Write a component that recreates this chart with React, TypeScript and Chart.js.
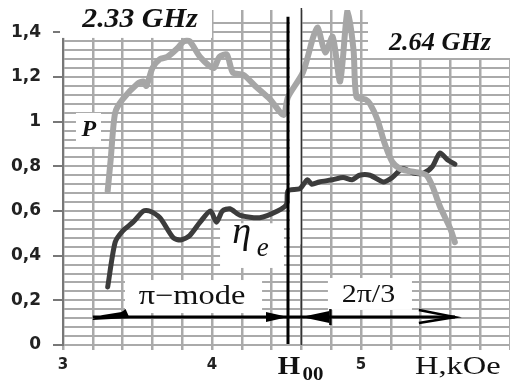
import React, { useEffect, useRef } from "react";
import { Chart, registerables } from "chart.js";
Chart.register(...registerables);

// Magnetic field H, kOe and output power P (grey curve)
const P_H = [3.30, 3.32, 3.35, 3.40, 3.50, 3.54, 3.56, 3.60, 3.65, 3.70, 3.77, 3.81, 3.85, 3.92, 4.01, 4.05, 4.10, 4.14, 4.21, 4.29, 4.39, 4.48, 4.51, 4.61, 4.68, 4.71, 4.76, 4.81, 4.86, 4.91, 4.95, 4.97, 5.03, 5.06, 5.11, 5.16, 5.21, 5.26, 5.31, 5.40, 5.44, 5.48, 5.53, 5.60, 5.63];
const P_VAL = [0.69, 0.83, 1.04, 1.10, 1.17, 1.18, 1.16, 1.24, 1.28, 1.29, 1.33, 1.36, 1.36, 1.29, 1.24, 1.29, 1.30, 1.22, 1.21, 1.16, 1.10, 1.03, 1.11, 1.22, 1.38, 1.42, 1.31, 1.38, 1.18, 1.50, 1.32, 1.11, 1.10, 1.08, 1.01, 0.90, 0.82, 0.79, 0.78, 0.77, 0.76, 0.71, 0.62, 0.52, 0.46];

// Electronic efficiency eta_e (dark curve)
const ETA_H = [3.30, 3.35, 3.40, 3.47, 3.54, 3.58, 3.65, 3.74, 3.79, 3.85, 3.92, 3.99, 4.03, 4.07, 4.12, 4.19, 4.32, 4.44, 4.50, 4.51, 4.59, 4.64, 4.67, 4.72, 4.81, 4.88, 4.94, 4.99, 5.06, 5.15, 5.21, 5.28, 5.35, 5.42, 5.48, 5.53, 5.58, 5.63];
const ETA_VAL = [0.26, 0.46, 0.51, 0.55, 0.60, 0.60, 0.57, 0.48, 0.47, 0.49, 0.55, 0.60, 0.55, 0.60, 0.61, 0.58, 0.57, 0.60, 0.63, 0.69, 0.70, 0.74, 0.72, 0.73, 0.74, 0.75, 0.74, 0.76, 0.76, 0.73, 0.75, 0.79, 0.77, 0.77, 0.80, 0.86, 0.83, 0.81];

// Axis ranges / ticks
const X_MIN = 3, X_MAX = 6, X_STEP = 0.2;
const Y_MIN = 0, Y_MAX = 1.5, Y_STEP = 0.04, Y_LABEL_STEP = 0.2;

// Mode boundaries
const H00 = 4.51;
const H00_B = 4.60;
const ARROW_Y = 0.125;
const ARROW_FROM = 3.2;
const ARROW_TO = 5.63;

const SERIF = '"Liberation Serif", "Times New Roman", serif';

function isMultiple(v: number, step: number) {
  const r = v / step;
  return Math.abs(r - Math.round(r)) < 1e-6;
}

function drawText(ctx: CanvasRenderingContext2D, text: string, px: number, py: number, font: string, sx: number) {
  ctx.save();
  ctx.translate(px, py);
  ctx.scale(sx, 1);
  ctx.font = font;
  ctx.fillStyle = "#111";
  ctx.textAlign = "center";
  ctx.textBaseline = "middle";
  ctx.fillText(text, 0, 0);
  ctx.restore();
}

const overlay = {
  id: "overlay",
  beforeDatasetsDraw(chart: any) {
    const { ctx, scales } = chart;
    const x = scales.x, y = scales.y;
    const boxes: [number, number, number, number][] = [
      [2.98, 4.0, 1.6, 1.375], // 2.33 GHz
      [5.047, 6.05, 1.6, 1.285], // 2.64 GHz
      [3.087, 3.255, 1.039, 0.887], // P
      [4.054, 4.483, 0.545, 0.345], // eta
      [3.416, 4.336, 0.291, 0.143], // pi-mode
      [4.778, 5.342, 0.3, 0.157], // 2pi/3
      [4.523, 4.597, 1.5, 0.45], // gap between lines
    ];
    ctx.save();
    ctx.fillStyle = "#ffffff";
    for (const [x1, x2, y1, y2] of boxes) {
      const px1 = x.getPixelForValue(x1), px2 = x.getPixelForValue(x2);
      const py1 = y.getPixelForValue(y1), py2 = y.getPixelForValue(y2);
      ctx.fillRect(px1, py1, px2 - px1, py2 - py1);
    }
    ctx.restore();
  },
  afterDatasetsDraw(chart: any) {
    const { ctx, scales } = chart;
    const x = scales.x, y = scales.y;
    const X = (v: number) => x.getPixelForValue(v);
    const Y = (v: number) => y.getPixelForValue(v);
    ctx.save();
    // vertical lines at H00
    ctx.strokeStyle = "#000";
    ctx.lineWidth = 3;
    ctx.beginPath();
    ctx.moveTo(X(H00), Y(1.47));
    ctx.lineTo(X(H00), Y(0) - 1);
    ctx.stroke();
    ctx.strokeStyle = "#333";
    ctx.lineWidth = 1.5;
    ctx.beginPath();
    ctx.moveTo(X(H00_B), Y(1.5) - 2);
    ctx.lineTo(X(H00_B), Y(0));
    ctx.stroke();

    // arrow line
    const yc = Y(ARROW_Y);
    ctx.strokeStyle = "#000";
    ctx.fillStyle = "#000";
    ctx.lineWidth = 3;
    ctx.beginPath();
    ctx.moveTo(X(ARROW_FROM), yc);
    ctx.lineTo(X(ARROW_TO), yc);
    ctx.stroke();
    // tail wedge
    const t0 = X(ARROW_FROM), t1 = X(ARROW_FROM + 0.22);
    ctx.beginPath();
    ctx.moveTo(t0, yc + 2);
    ctx.lineTo(t0 + 10, yc - 2);
    ctx.lineTo(t1 - 4, yc - 5);
    ctx.lineTo(t1, yc - 8);
    ctx.lineTo(t1 + 4, yc + 1);
    ctx.lineTo(t0, yc + 3);
    ctx.closePath();
    ctx.fill();
    // arrowhead into H00
    const h = X(H00);
    ctx.beginPath();
    ctx.moveTo(h - 22, yc - 5);
    ctx.lineTo(h, yc);
    ctx.lineTo(h - 22, yc + 5);
    ctx.closePath();
    ctx.fill();
    // left-pointing head from second line
    const hb = X(H00_B);
    ctx.beginPath();
    ctx.moveTo(hb, yc);
    ctx.lineTo(hb + 28, yc - 6);
    ctx.lineTo(hb + 28, yc + 6);
    ctx.closePath();
    ctx.fill();
    ctx.lineWidth = 2.5;
    ctx.beginPath();
    ctx.moveTo(hb + 29, yc - 8);
    ctx.lineTo(hb + 29, yc + 8);
    ctx.stroke();
    // open arrow end
    const e = X(ARROW_TO);
    ctx.lineWidth = 2.5;
    ctx.beginPath();
    ctx.moveTo(e - 36, yc - 7);
    ctx.lineTo(e, yc);
    ctx.lineTo(e - 36, yc + 6);
    ctx.stroke();
    ctx.restore();

    // labels
    drawText(ctx, "2.33 GHz", X(3.517), Y(1.455), `italic bold 27px ${SERIF}`, 1.1);
    drawText(ctx, "2.64 GHz", X(5.53), Y(1.348), `italic bold 25px ${SERIF}`, 1.05);
    drawText(ctx, "P", X(3.174), Y(0.963), `italic bold 24px ${SERIF}`, 1.0);
    drawText(ctx, "η", X(4.2), Y(0.5), `italic 38px ${SERIF}`, 1.0);
    drawText(ctx, "e", X(4.34), Y(0.43), `italic 27px ${SERIF}`, 1.0);
    drawText(ctx, "π−mode", X(3.866), Y(0.215), `27px ${SERIF}`, 1.2);
    drawText(ctx, "2π/3", X(5.05), Y(0.224), `25px ${SERIF}`, 1.2);
    drawText(ctx, "H", X(4.517), Y(-0.1), `bold 25px ${SERIF}`, 1.15);
    drawText(ctx, "00", X(4.678), Y(-0.135), `bold 19px ${SERIF}`, 1.1);
    drawText(ctx, "H,kOe", X(5.65), Y(-0.1), `25px ${SERIF}`, 1.3);
  },
};

export default function App() {
  const ref = useRef<HTMLCanvasElement | null>(null);
  useEffect(() => {
    if (!ref.current) return;
    const chart = new Chart(ref.current, {
      type: "line",
      data: {
        datasets: [
          {
            label: "P",
            data: P_H.map((h, i) => ({ x: h, y: P_VAL[i] })),
            borderColor: "#a6a6a6",
            borderWidth: 6,
            pointRadius: 0,
            tension: 0.25,
            borderJoinStyle: "round",
            borderCapStyle: "round",
          },
          {
            label: "eta_e",
            data: ETA_H.map((h, i) => ({ x: h, y: ETA_VAL[i] })),
            borderColor: "#3c3c3c",
            borderWidth: 5,
            pointRadius: 0,
            tension: 0.25,
            borderJoinStyle: "round",
            borderCapStyle: "round",
          },
        ],
      },
      options: {
        animation: false,
        responsive: false,
        devicePixelRatio: 1,
        layout: { padding: { top: 10, right: 0, left: 0, bottom: 0 } },
        plugins: { legend: { display: false }, tooltip: { enabled: false } },
        scales: {
          x: {
            type: "linear",
            min: X_MIN,
            max: X_MAX,
            afterFit: (s: any) => {
              s.height = 35;
              s.paddingLeft = 0;
              s.paddingRight = 0;
            },
            ticks: {
              stepSize: X_STEP,
              autoSkip: false,
              maxRotation: 0,
              callback: (v: any) => (isMultiple(Number(v), 1) && Number(v) < 5.5 ? String(Math.round(Number(v))) : ""),
              font: { family: "DejaVu Sans", size: 15, weight: "bold" },
              color: "#222",
              padding: 6,
            },
            grid: { color: "#aaaaaa", lineWidth: 2.5, tickLength: 5, tickColor: "#aaaaaa" },
            border: { display: false },
          },
          y: {
            min: Y_MIN,
            max: Y_MAX,
            afterFit: (s: any) => {
              s.width = 63;
              s.paddingTop = 0;
              s.paddingBottom = 0;
            },
            ticks: {
              stepSize: Y_STEP,
              autoSkip: false,
              callback: (v: any) => {
                const n = Number(v);
                if (!isMultiple(n, Y_LABEL_STEP) || n > 1.45) return "";
                return String(Math.round(n * 10) / 10).replace(".", ",");
              },
              font: { family: "DejaVu Sans", size: 17, weight: "bold" },
              color: "#222",
              padding: 12,
            },
            grid: {
              color: (c: any) => (c.tick && c.tick.value > 1.49 ? "rgba(0,0,0,0)" : "#aaaaaa"),
              lineWidth: 2,
              tickLength: 10,
              tickColor: (c: any) =>
                c.tick && isMultiple(c.tick.value, Y_LABEL_STEP) && c.tick.value < 1.45 ? "#777" : "rgba(0,0,0,0)",
            },
            border: { color: "#777", width: 2 },
          },
        },
      },
      plugins: [overlay],
    } as any);
    return () => chart.destroy();
  }, []);
  return (
    <div style={{ position: "absolute", left: 0, top: 0, width: 510, height: 380, background: "#fff" }}>
      <canvas ref={ref} width={510} height={380} style={{ display: "block" }} />
    </div>
  );
}
